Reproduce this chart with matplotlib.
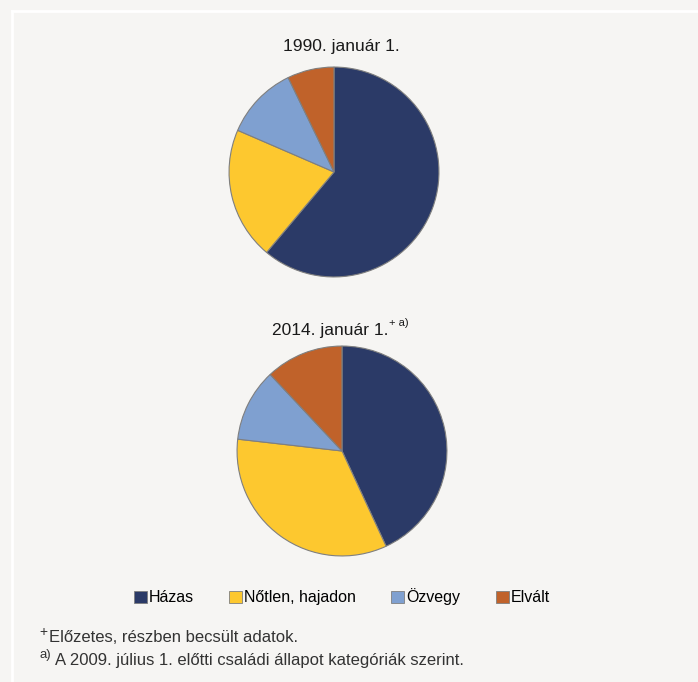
import matplotlib
matplotlib.use("Agg")
import matplotlib.pyplot as plt
from matplotlib.lines import Line2D
from matplotlib.patches import Patch

# Adatok (családi állapot megoszlása, %)
kategoriak = ["Házas", "Nőtlen, hajadon", "Özvegy", "Elvált"]
ertekek_1990 = [61.1, 20.4, 11.3, 7.2]
ertekek_2014 = [43.1, 33.7, 11.2, 12.0]
szinek = ["#2b3a67", "#fdc82f", "#7fa0d0", "#c0622a"]

plt.rcParams['font.family'] = ['Liberation Sans', 'DejaVu Sans']

W, H = 698, 682
hatter = "#f6f5f3"
fig = plt.figure(figsize=(W / 100, H / 100), dpi=100, facecolor=hatter)

# fehér keret (felső és bal)
fig.add_artist(Line2D([12 / W, 697 / W], [1 - 11 / H, 1 - 11 / H], color="white", lw=2))
fig.add_artist(Line2D([12 / W, 12 / W], [1 - 11 / H, 0], color="white", lw=2))


def kordiagram(cx, cy, r, ertekek):
    ax = fig.add_axes([(cx - r) / W, 1 - (cy + r) / H, 2 * r / W, 2 * r / H])
    ax.pie(ertekek, colors=szinek, startangle=90, counterclock=False,
           wedgeprops=dict(edgecolor="#7f7f7f", linewidth=0.8))
    ax.set_xlim(-1.01, 1.01)
    ax.set_ylim(-1.01, 1.01)
    ax.set_aspect("equal")
    ax.axis("off")
    return ax


kordiagram(334, 172, 106, ertekek_1990)
kordiagram(342, 451, 106, ertekek_2014)

# címek
fig.text(341 / W, 1 - 47 / H, "1990. január 1.", ha="center", va="center",
         fontsize=12.5, color="#1a1a1a")
fig.text(388 / W, 1 - 330 / H, "2014. január 1.", ha="right", va="center",
         fontsize=12.5, color="#1a1a1a")
fig.text(389 / W, 1 - 323 / H, "+ a)", ha="left", va="center",
         fontsize=8, color="#1a1a1a")

# jelmagyarázat
elemek = [Patch(facecolor=c, edgecolor="#7f7f7f", linewidth=0.6) for c in szinek]
fig.legend(elemek, kategoriak, loc="center", bbox_to_anchor=(342 / W, 1 - 597 / H),
           ncol=4, frameon=False, fontsize=11.5, handlelength=0.8, handleheight=0.8,
           handletextpad=0.15, columnspacing=2.2)

# lábjegyzetek
fig.text(39 / W, 1 - 632 / H, "+", ha="left", va="center", fontsize=10, color="#333333")
fig.text(49 / W, 1 - 637 / H, "Előzetes, részben becsült adatok.", ha="left", va="center",
         fontsize=12, color="#333333")
fig.text(39 / W, 1 - 655 / H, "a)", ha="left", va="center", fontsize=9.5, color="#333333")
fig.text(55 / W, 1 - 660 / H, "A 2009. július 1. előtti családi állapot kategóriák szerint.",
         ha="left", va="center", fontsize=12, color="#333333")

fig.savefig("out.png", dpi=100, facecolor=hatter)
